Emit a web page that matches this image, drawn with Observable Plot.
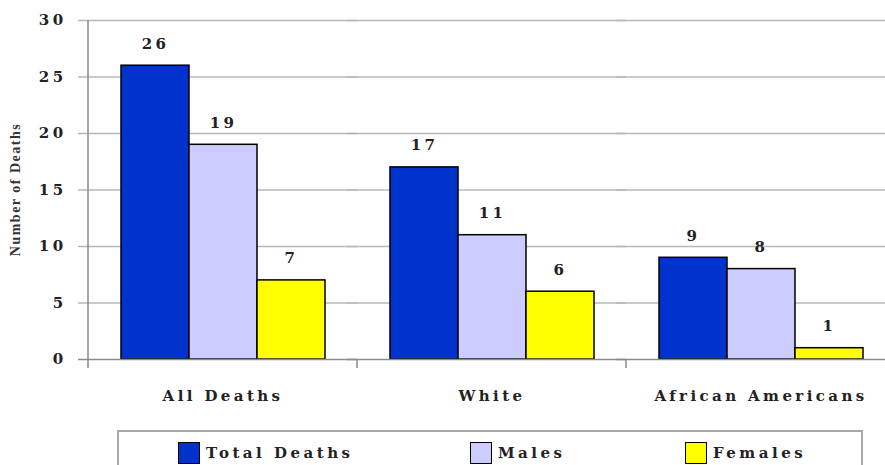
<!DOCTYPE html>
<html>
<head>
<meta charset="utf-8">
<script src="https://cdn.jsdelivr.net/npm/d3@7"></script>
<script src="https://cdn.jsdelivr.net/npm/@observablehq/plot@0.6"></script>
<style>
  body { margin: 0; background: #fff; }
  #wrap { position: relative; width: 885px; height: 465px; overflow: hidden; }
  #chart svg { max-width: none !important; }
  #legend {
    position: absolute; left: 117px; top: 430px; width: 746px; height: 60px;
    box-sizing: border-box; border: 2px solid #a8a8a8; background: #fff;
  }
  .item { position: absolute; top: 10px; display: flex; align-items: center; }
  .sw { width: 22px; height: 22px; box-sizing: border-box; border: 1.5px solid #000; margin-right: 6px; }
  .lbl { font: bold 15px "DejaVu Serif", serif; letter-spacing: 3.5px; color: #222; }
</style>
</head>
<body>
<div id="wrap">
  <div id="chart"></div>
  <div id="legend"></div>
</div>
<script>
// Deaths by group, split into total / males / females
const groups = ["All Deaths", "White", "African Americans"];
const seriesNames = ["Total Deaths", "Males", "Females"];
const totalDeaths = [26, 17, 9];
const males = [19, 11, 8];
const females = [7, 6, 1];
const seriesColors = ["#0033cc", "#ccccff", "#ffff00"];
const yTicks = [0, 5, 10, 15, 20, 25, 30];
const yLabel = "Number of Deaths";

const seriesValues = [totalDeaths, males, females];
const rows = groups.flatMap((g, i) =>
  seriesNames.map((s, j) => ({group: g, series: s, value: seriesValues[j][i]}))
);

const font = "'DejaVu Serif', serif";

const chart = Plot.plot({
  width: 895,
  height: 420,
  marginLeft: 88,
  marginRight: 0,
  marginTop: 20,
  marginBottom: 61,
  style: {fontFamily: font, letterSpacing: "3.4px", background: "transparent", overflow: "visible", maxWidth: "none"},
  fx: {domain: groups, padding: 0, label: null},
  x: {domain: seriesNames, paddingInner: 0, paddingOuter: 0.47, axis: null},
  y: {domain: [0, 30], label: null},
  color: {domain: seriesNames, range: seriesColors},
  marks: [
    Plot.ruleY(yTicks.filter(d => d > 0), {stroke: "#b8b8b8", strokeWidth: 1.6, insetLeft: -10}),
    Plot.barY(rows, {fx: "group", x: "series", y: "value", fill: "series", stroke: "#000", strokeWidth: 1.5}),
    Plot.text(rows, {
      fx: "group", x: "series", y: "value", text: d => String(d.value),
      dy: -22, fontSize: 15, fontWeight: "bold", fill: "#222"
    }),
    Plot.ruleY([0], {stroke: "#8a8a8a", strokeWidth: 1.5, insetLeft: -10}),
    Plot.axisY(yTicks, {tickSize: 0, tickPadding: 22, fontSize: 15, fontWeight: "bold", fill: "#222", label: null}),
    Plot.axisFx({anchor: "bottom", tickSize: 0, tickPadding: 31, fontSize: 15, fontWeight: "bold", fill: "#222", label: null})
  ]
});

document.getElementById("chart").appendChild(chart);

// Axis line and category boundary ticks, placed with the plot's own scales
const fx = chart.scale("fx");
const y = chart.scale("y");
const svg = d3.select(chart);
const x0 = fx.apply(groups[0]);
const y0 = y.apply(0);
const yTop = y.apply(30);
const bounds = groups.map(g => fx.apply(g)).concat([fx.apply(groups[groups.length - 1]) + fx.bandwidth]);

const overlay = svg.append("g").attr("stroke", "#8a8a8a").attr("stroke-width", 1.5);
overlay.append("line").attr("x1", x0).attr("x2", x0).attr("y1", yTop).attr("y2", y0 + 9);
overlay.selectAll(".bt").data(bounds.slice(1)).join("line")
  .attr("x1", d => d).attr("x2", d => d).attr("y1", y0).attr("y2", y0 + 9);

svg.append("text")
  .attr("transform", `translate(20,${(yTop + y0) / 2}) rotate(-90)`)
  .attr("text-anchor", "middle")
  .style("font", "bold 14px 'Liberation Serif', serif")
  .style("letter-spacing", "1.5px")
  .attr("fill", "#333")
  .text(yLabel);

// Legend
const legendOffsets = [59, 351, 566];
const legend = d3.select("#legend");
seriesNames.forEach((s, i) => {
  const item = legend.append("div").attr("class", "item").style("left", legendOffsets[i] + "px");
  item.append("div").attr("class", "sw").style("background", seriesColors[i]);
  item.append("span").attr("class", "lbl").text(s);
});
</script>
</body>
</html>
